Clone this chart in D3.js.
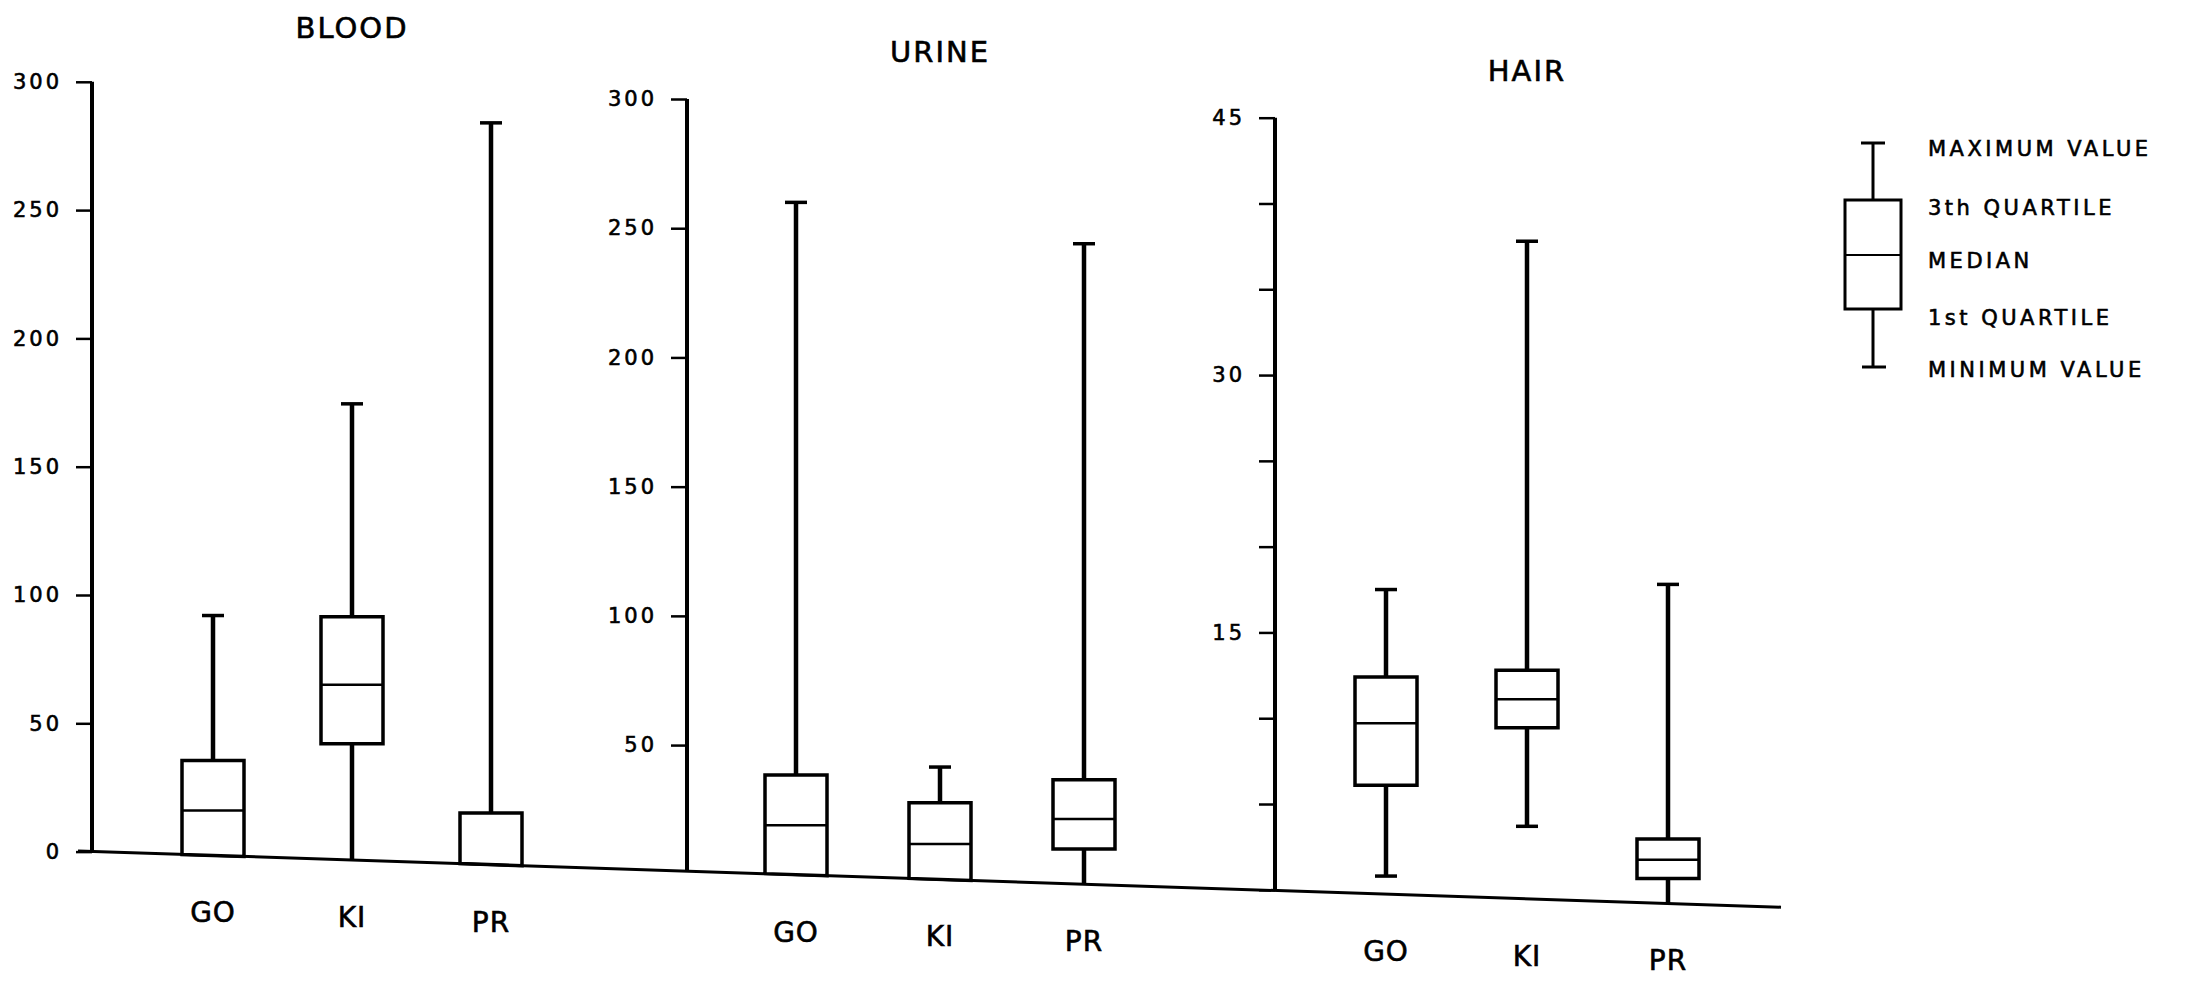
<!DOCTYPE html>
<html>
<head>
<meta charset="utf-8">
<script src="https://cdn.jsdelivr.net/npm/d3@7"></script>
<style>
  body { margin: 0; background: #fff; }
  svg text { font-family: "DejaVu Sans", sans-serif; fill: #000; stroke: #000; stroke-width: 0.6px; }
</style>
</head>
<body>
<svg id="chart" width="2189" height="982"></svg>
<script>
// data
var groups = ["GO", "KI", "PR"];

var bloodMin    = [0, 0, 0];
var bloodQ1     = [0, 42, 0];
var bloodMedian = [16, 65, 0];
var bloodQ3     = [35.5, 91.5, 15];
var bloodMax    = [92, 174.5, 284];

var urineMin    = [0, 0, 0];
var urineQ1     = [0, 0, 9.8];
var urineMedian = [19, 11.7, 21.4];
var urineQ3     = [38.4, 27.7, 36.6];
var urineMax    = [260, 41.5, 244];

var hairMin    = [0.8, 3.7, 0];
var hairQ1     = [6.1, 9.45, 0.66];
var hairMedian = [9.7, 11.1, 1.75];
var hairQ3     = [12.4, 12.8, 2.96];
var hairMax    = [17.5, 37.8, 17.8];

var bloodTicks = [0, 50, 100, 150, 200, 250, 300];
var urineTicks = [50, 100, 150, 200, 250, 300];
var hairTicks  = [0, 5, 10, 15, 20, 25, 30, 35, 40, 45];
var hairTickLabels = [15, 30, 45];

var legendLabels = ["MAXIMUM VALUE", "3th QUARTILE", "MEDIAN", "1st QUARTILE", "MINIMUM VALUE"];

// helpers
function zipStats(mn, q1, md, q3, mx){
    return groups.map(function(g, i){
        return {group: g, min: mn[i], q1: q1[i], median: md[i], q3: q3[i], max: mx[i]};
    });
}

var svg = d3.select("#chart");

// the common floor line runs slightly downhill across the sheet
var slope = 0.033;
var floorX0 = 78, floorX1 = 1781, floorY0 = 851;
function floorY(x){ return floorY0 + slope * (x - floorX0); }

var panels = [
    {title: "BLOOD", axisX: 92, y0: 851.6, yTop: 81.8, domain: [0, 300],
     ticks: bloodTicks, labels: bloodTicks, first: 121, step: 139, titleY: 38,
     stats: zipStats(bloodMin, bloodQ1, bloodMedian, bloodQ3, bloodMax)},
    {title: "URINE", axisX: 687, y0: 874.3, yTop: 99, domain: [0, 300],
     ticks: urineTicks, labels: urineTicks, first: 109, step: 144, titleY: 62,
     stats: zipStats(urineMin, urineQ1, urineMedian, urineQ3, urineMax)},
    {title: "HAIR", axisX: 1275, y0: 889.8, yTop: 117.7, domain: [0, 45],
     ticks: hairTicks, labels: hairTickLabels, first: 111, step: 141, titleY: 81,
     stats: zipStats(hairMin, hairQ1, hairMedian, hairQ3, hairMax)}
];

var boxW = 62, capW = 22;

// floor
svg.append("line")
    .attr("x1", floorX0).attr("y1", floorY(floorX0))
    .attr("x2", floorX1).attr("y2", floorY(floorX1))
    .attr("stroke", "#000").attr("stroke-width", 3);

panels.forEach(function(p){
    var y = d3.scaleLinear().domain(p.domain).range([p.y0, p.yTop]);
    var x = d3.scalePoint().domain(groups)
        .range([p.axisX + p.first, p.axisX + p.first + 2 * p.step]);

    // zero sits on the sloping floor
    function yAt(v, px){ return v <= 0 ? floorY(px) : y(v); }

    var g = svg.append("g");

    var axis = d3.axisLeft(y)
        .tickValues(p.ticks)
        .tickSize(16).tickSizeOuter(0).tickPadding(14)
        .tickFormat(function(d){ return p.labels.indexOf(d) >= 0 ? d : ""; });

    var ax = g.append("g")
        .attr("transform", "translate(" + p.axisX + ",0)")
        .call(axis);
    ax.select(".domain").remove();
    ax.selectAll(".tick line").attr("stroke", "#000").attr("stroke-width", 2.5);
    ax.selectAll(".tick text")
        .style("font-size", "21px").style("letter-spacing", "3px")
        .attr("fill", "#000");

    // vertical axis line down to the floor
    g.append("line")
        .attr("x1", p.axisX).attr("x2", p.axisX)
        .attr("y1", y(p.domain[1])).attr("y2", floorY(p.axisX))
        .attr("stroke", "#000").attr("stroke-width", 4);

    g.append("text")
        .attr("x", x("KI")).attr("y", p.titleY)
        .attr("text-anchor", "middle")
        .style("font-size", "29px").style("letter-spacing", "2px")
        .text(p.title);

    var box = g.selectAll(".box").data(p.stats).enter()
        .append("g").attr("class", "box");

    // whiskers
    box.append("line")
        .attr("x1", function(d){ return x(d.group); })
        .attr("x2", function(d){ return x(d.group); })
        .attr("y1", function(d){ return yAt(d.q3, x(d.group)); })
        .attr("y2", function(d){ return yAt(d.max, x(d.group)); })
        .attr("stroke", "#000").attr("stroke-width", 4.5);
    box.append("line")
        .attr("x1", function(d){ return x(d.group); })
        .attr("x2", function(d){ return x(d.group); })
        .attr("y1", function(d){ return yAt(d.q1, x(d.group)); })
        .attr("y2", function(d){ return yAt(d.min, x(d.group)); })
        .attr("stroke", "#000").attr("stroke-width", 4.5);

    // caps
    box.append("line")
        .attr("x1", function(d){ return x(d.group) - capW / 2; })
        .attr("x2", function(d){ return x(d.group) + capW / 2; })
        .attr("y1", function(d){ return y(d.max); })
        .attr("y2", function(d){ return y(d.max); })
        .attr("stroke", "#000").attr("stroke-width", 3.5);
    box.filter(function(d){ return d.min > 0; }).append("line")
        .attr("x1", function(d){ return x(d.group) - capW / 2; })
        .attr("x2", function(d){ return x(d.group) + capW / 2; })
        .attr("y1", function(d){ return y(d.min); })
        .attr("y2", function(d){ return y(d.min); })
        .attr("stroke", "#000").attr("stroke-width", 3.5);

    // box body
    box.append("path")
        .attr("d", function(d){
            var l = x(d.group) - boxW / 2, r = x(d.group) + boxW / 2;
            return "M" + l + "," + yAt(d.q1, l) + "L" + l + "," + y(d.q3) +
                   "L" + r + "," + y(d.q3) + "L" + r + "," + yAt(d.q1, r) + "Z";
        })
        .attr("fill", "#fff").attr("stroke", "#000").attr("stroke-width", 3.5);

    // median
    box.append("line")
        .attr("x1", function(d){ return x(d.group) - boxW / 2; })
        .attr("x2", function(d){ return x(d.group) + boxW / 2; })
        .attr("y1", function(d){ return yAt(d.median, x(d.group) - boxW / 2); })
        .attr("y2", function(d){ return yAt(d.median, x(d.group) + boxW / 2); })
        .attr("stroke", "#000").attr("stroke-width", 2.5);

    // group labels under the floor
    g.selectAll(".glabel").data(groups).enter()
        .append("text")
        .attr("x", function(d){ return x(d); })
        .attr("y", function(d){ return floorY(x(d)) + 67; })
        .attr("text-anchor", "middle")
        .style("font-size", "28px").style("letter-spacing", "1px")
        .text(function(d){ return d; });
});

// legend key
var key = svg.append("g").attr("transform", "translate(1873,0)");
var keyY = [143, 200, 255, 309, 367];
key.append("line").attr("x1", 0).attr("x2", 0).attr("y1", keyY[0]).attr("y2", keyY[1])
    .attr("stroke", "#000").attr("stroke-width", 3);
key.append("line").attr("x1", 0).attr("x2", 0).attr("y1", keyY[3]).attr("y2", keyY[4])
    .attr("stroke", "#000").attr("stroke-width", 3);
key.append("line").attr("x1", -12).attr("x2", 12).attr("y1", keyY[0]).attr("y2", keyY[0])
    .attr("stroke", "#000").attr("stroke-width", 3);
key.append("line").attr("x1", -11).attr("x2", 13).attr("y1", keyY[4]).attr("y2", keyY[4])
    .attr("stroke", "#000").attr("stroke-width", 3);
key.append("rect").attr("x", -28).attr("y", keyY[1]).attr("width", 56).attr("height", keyY[3] - keyY[1])
    .attr("fill", "#fff").attr("stroke", "#000").attr("stroke-width", 3);
key.append("line").attr("x1", -28).attr("x2", 28).attr("y1", keyY[2]).attr("y2", keyY[2])
    .attr("stroke", "#000").attr("stroke-width", 2);

var keyTextY = [148, 207, 260, 317, 369];
key.selectAll(".ktext").data(legendLabels).enter()
    .append("text")
    .attr("x", 55)
    .attr("y", function(d, i){ return keyTextY[i] + 8; })
    .style("font-size", "21px").style("letter-spacing", "3.5px")
    .text(function(d){ return d; });
</script>
</body>
</html>
